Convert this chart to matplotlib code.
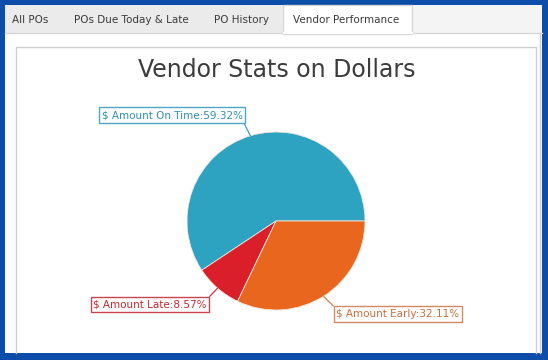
import numpy as np
import matplotlib
matplotlib.use('Agg')
import matplotlib.pyplot as plt
from matplotlib.patches import Rectangle

# Data
categories = ['$ Amount On Time', '$ Amount Late', '$ Amount Early']
values = [59.32, 8.57, 32.11]
colors = ['#2EA3C1', '#DA1F2B', '#E8661E']
text_colors = ['#2F8FB3', '#C42A33', '#C96F3B']
edge_colors = ['#4FA6C6', '#C9464E', '#D38A5E']
tabs = ['All POs', 'POs Due Today & Late', 'PO History', 'Vendor Performance']

W, H = 548, 360
fig = plt.figure(figsize=(W / 100, H / 100), dpi=100)
fig.patch.set_facecolor('#0B4DA8')

# UI chrome in pixel coordinates
bg = fig.add_axes([0, 0, 1, 1])
bg.set_xlim(0, W)
bg.set_ylim(H, 0)
bg.axis('off')

bg.add_patch(Rectangle((5, 5), 537, 348, fc='white', ec='none'))
# tab strip
bg.add_patch(Rectangle((5, 5), 537, 28, fc='#F4F4F4', ec='none'))
bg.add_patch(Rectangle((5, 5), 278, 28, fc='#EBEBEB', ec='none'))
bg.plot([5, 542], [33, 33], color='#D8D8D8', lw=1)
bg.add_patch(Rectangle((283, 5), 129, 28.5, fc='white', ec='#D8D8D8', lw=1))
bg.plot([283.5, 411.5], [33, 33], color='white', lw=1.5)

tab_x = [30, 131, 242, 346]
for t, x in zip(tabs, tab_x):
    bg.text(x, 20, t, ha='center', va='center', fontsize=7.5, color='#3A3A3A')

# panel and chart box (box runs past the bottom edge)
bg.plot([540, 540], [33, 353], color='#D0D0D0', lw=1)
bg.plot([16, 16, 536, 536], [353, 47, 47, 353], color='#CFCFCF', lw=1)

bg.text(277, 70, 'Vendor Stats on Dollars', ha='center', va='center',
        fontsize=17, color='#3C3C3C')

# Pie
cx, cy, r = 276, 221, 89
ax = fig.add_axes([(cx - r) / W, (H - cy - r) / H, 2 * r / W, 2 * r / H])
wedges, _ = ax.pie(values, colors=colors, startangle=0, counterclock=True,
                   wedgeprops=dict(linewidth=0.6, edgecolor='#F2E6DE'))
ax.set_xlim(-1, 1)
ax.set_ylim(-1, 1)
ax.set_aspect('equal')

# label boxes (centers in pixels) and which box corner the leader meets
label_px = [(172, 115), (150, 304.5), (398, 314)]
corners = [(1, 0), (1, 1), (0, 1)]
for w, cat, val, (px, py), rp, tc, ec in zip(wedges, categories, values,
                                             label_px, corners, text_colors, edge_colors):
    mid = np.deg2rad((w.theta1 + w.theta2) / 2)
    ax.annotate(f'{cat}:{val:.2f}%', xy=(np.cos(mid), np.sin(mid)),
                xytext=((px - cx) / r, (cy - py) / r),
                ha='center', va='center', fontsize=7.5, color=tc,
                bbox=dict(boxstyle='square,pad=0.25', fc='white', ec=ec, lw=1),
                arrowprops=dict(arrowstyle='-', color=ec, lw=1, relpos=rp,
                                shrinkA=0, shrinkB=0),
                annotation_clip=False)

fig.savefig('out.png', dpi=100, facecolor=fig.get_facecolor())
